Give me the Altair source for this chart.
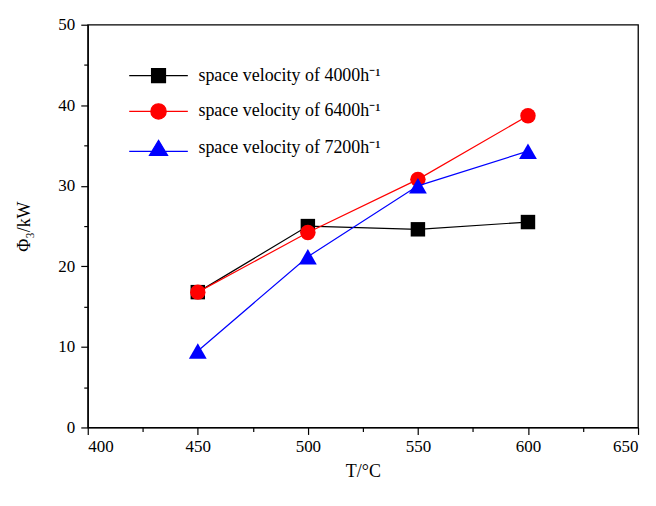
import altair as alt
import pandas as pd

# ---- data ----
temps = [450, 500, 550, 600]
sv4000 = [16.8, 25.0, 24.6, 25.5]
sv6400 = [16.8, 24.2, 30.8, 38.7]
sv7200 = [9.5, 21.2, 30.0, 34.3]
series_names = [
    "space velocity of 4000h\u207b\u00b9",
    "space velocity of 6400h\u207b\u00b9",
    "space velocity of 7200h\u207b\u00b9",
]
x_ticks = [400, 450, 500, 550, 600, 650]
y_ticks = [0, 10, 20, 30, 40, 50]
x_minor = [425, 475, 525, 575, 625]
y_minor = [5, 15, 25, 35, 45]

# ---- styles ----
colors = ["#000000", "#ff0000", "#0000ff"]
shapes = ["square", "circle", "triangle-up"]
sizes = [210, 240, 320]
legend_paths = [
    "M-4.2,0H4.2M-1,-1H1V1H-1Z",
    "M-4.2,0H4.2M-1.1,0A1.1,1.1 0 1,0 1.1,0A1.1,1.1 0 1,0 -1.1,0Z",
    "M-4.2,0.45H4.2M0,-1.15L1.3,1H-1.3Z",
]
FONT = "Liberation Serif"

rows = []
for name, vals in zip(series_names, [sv4000, sv6400, sv7200]):
    for t, v in zip(temps, vals):
        rows.append({"T": t, "P": v, "series": name})
df = pd.DataFrame(rows)

xs = alt.Scale(domain=[400, 650], nice=False, zero=False)
ys = alt.Scale(domain=[0, 50], nice=False, zero=False)

main_x = alt.Axis(orient="bottom", values=x_ticks, title="T/\u00b0C", format="d",
                  tickSize=7, labelPadding=4, titlePadding=8, grid=False)
main_y = alt.Axis(orient="left", values=y_ticks, title="\u03a6\u2083/kW", format="d",
                  tickSize=7, labelPadding=6, titlePadding=24, grid=False)

base = alt.Chart(df)
layers = []
first = True
for name, c, s, sz in zip(series_names, colors, shapes, sizes):
    sub = base.transform_filter(alt.datum.series == name)
    xa = main_x if first else None
    ya = main_y if first else None
    first = False
    line = sub.mark_line(color=c, strokeWidth=1.2).encode(
        x=alt.X("T:Q", scale=xs, axis=xa),
        y=alt.Y("P:Q", scale=ys, axis=ya),
    )
    pts = sub.mark_point(shape=s, filled=True, color=c, size=sz, opacity=1).encode(
        x=alt.X("T:Q", scale=xs, axis=None),
        y=alt.Y("P:Q", scale=ys, axis=None),
    )
    layers += [line, pts]

# minor ticks
minor = base.transform_filter("false").mark_point().encode(
    x=alt.X("T:Q", scale=xs, axis=alt.Axis(orient="bottom", values=x_minor, labels=False,
                                           domain=False, tickSize=4, grid=False, title=None)),
    y=alt.Y("P:Q", scale=ys, axis=alt.Axis(orient="left", values=y_minor, labels=False,
                                           domain=False, tickSize=4, grid=False, title=None)),
)
layers.append(minor)

leg = alt.Legend(orient="none", legendX=62, legendY=42, title=None, padding=0,
                 labelFont=FONT, labelFontSize=18, labelColor="black", labelLimit=500,
                 symbolSize=196, symbolStrokeWidth=1.2, symbolOpacity=1,
                 labelOffset=31, rowPadding=15)
legend_layer = base.transform_filter("false").mark_point(filled=True, opacity=1).encode(
    x=alt.X("T:Q", scale=xs, axis=None),
    y=alt.Y("P:Q", scale=ys, axis=None),
    shape=alt.Shape("series:N", scale=alt.Scale(domain=series_names, range=legend_paths), legend=leg),
    fill=alt.Fill("series:N", scale=alt.Scale(domain=series_names, range=colors), legend=leg),
    stroke=alt.Stroke("series:N", scale=alt.Scale(domain=series_names, range=colors), legend=leg),
)
layers.append(legend_layer)

chart = alt.layer(*layers).resolve_axis(x="independent", y="independent").properties(
    width=552, height=404,
    autosize=alt.AutoSizeParams(type="none"),
    padding={"left": 80, "top": 16, "right": 10, "bottom": 70},
).configure_view(stroke="black", strokeWidth=1.3).configure_axis(
    domainColor="black", domainWidth=1.3, tickColor="black", tickWidth=1.2,
    labelFont=FONT, labelFontSize=17, labelColor="black",
    titleFont=FONT, titleFontSize=18, titleColor="black", titleFontWeight="normal",
)

chart.save("out.html", embed_options={"renderer": "svg", "actions": False})
